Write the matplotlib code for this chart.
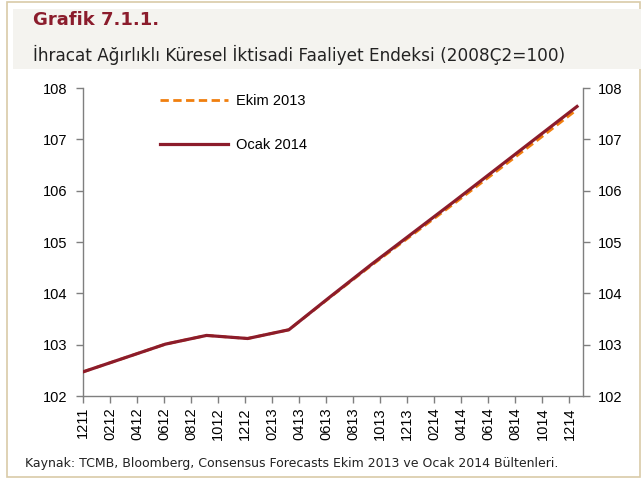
import matplotlib
matplotlib.use("Agg")
import matplotlib.pyplot as plt
from matplotlib.patches import Rectangle
import numpy as np

# Quarterly data (2011Q4 .. 2014Q4)
quarters = ["2011Q4", "2012Q1", "2012Q2", "2012Q3", "2012Q4", "2013Q1", "2013Q2",
            "2013Q3", "2013Q4", "2014Q1", "2014Q2", "2014Q3", "2014Q4"]
ekim_2013 = [102.47, 102.74, 103.01, 103.18, 103.12, 103.29, 103.92,
             104.54, 105.14, 105.74, 106.35, 106.96, 107.58]
ocak_2014 = [102.47, 102.74, 103.01, 103.18, 103.12, 103.29, 103.93,
             104.56, 105.17, 105.78, 106.40, 107.02, 107.64]

month_labels = ["1211", "0212", "0412", "0612", "0812", "1012", "1212", "0213", "0413",
                "0613", "0813", "1013", "1213", "0214", "0414", "0614", "0814", "1014", "1214"]

W, H = 643, 479
fig = plt.figure(figsize=(W / 100, H / 100), dpi=100)
fig.patch.set_facecolor("white")

# frame and title band
fig.patches.append(Rectangle((7 / W, 2 / H), 633 / W, 475 / H, transform=fig.transFigure,
                             fill=False, edgecolor="#d9cba8", linewidth=1.2))
fig.patches.append(Rectangle((13 / W, 1 - 69 / H), 628 / W, 60 / H, transform=fig.transFigure,
                             facecolor="#f4f3ef", edgecolor="none"))

fig.text(33 / W, 1 - 20 / H, "Grafik 7.1.1.", fontsize=13, fontweight="bold",
         color="#8b1c2c", va="center", ha="left", family="DejaVu Sans")
fig.text(33 / W, 1 - 55 / H, "İhracat Ağırlıklı Küresel İktisadi Faaliyet Endeksi (2008Ç2=100)",
         fontsize=12.2, color="#222222", va="center", ha="left", family="DejaVu Sans")
fig.text(25 / W, 1 - 463 / H,
         "Kaynak: TCMB, Bloomberg, Consensus Forecasts Ekim 2013 ve Ocak 2014 Bültenleri.",
         fontsize=9.0, color="#222222", va="center", ha="left", family="DejaVu Sans")

left, right, top, bottom = 83, 583, 88, 396
ax = fig.add_axes([left / W, 1 - bottom / H, (right - left) / W, (bottom - top) / H])
ax.set_facecolor("none")

x = np.arange(len(quarters))
ax.plot(x, ekim_2013, color="#f07f0e", linewidth=2.0, linestyle=(0, (3, 1.6)),
        label="Ekim 2013", zorder=2)
ax.plot(x, ocak_2014, color="#8c1c2b", linewidth=2.3, label="Ocak 2014", zorder=3)

px_per_q = (577 - left) / (len(quarters) - 1)
ax.set_xlim(0, (right - left) / px_per_q)
ax.set_ylim(102, 108)
ax.set_yticks(np.arange(102, 109, 1))
ax.set_xticks([])

ax.spines["top"].set_visible(False)
for s in ["left", "right", "bottom"]:
    ax.spines[s].set_color("#7f7f7f")
    ax.spines[s].set_linewidth(1.0)
ax.tick_params(axis="y", which="both", left=True, right=True, labelleft=True, labelright=True,
               direction="out", length=5, width=1, color="#7f7f7f", labelsize=10.5, pad=6)
for lab in ax.get_yticklabels():
    lab.set_family("Liberation Sans")

# month axis for tick labels
axm = ax.twiny()
axm.set_xlim(0, 37)
axm.xaxis.set_ticks_position("bottom")
axm.xaxis.set_label_position("bottom")
axm.set_xticks(np.arange(0, 37, 2))
axm.set_xticklabels(month_labels, rotation=90, fontsize=10.5, family="Liberation Sans")
axm.tick_params(axis="x", direction="out", length=5, width=1, color="#7f7f7f", pad=3)
for s in axm.spines.values():
    s.set_visible(False)

leg = ax.legend(loc="upper left", bbox_to_anchor=(0.128, 1.024), frameon=False,
                handlelength=4.65, labelspacing=2.05, handletextpad=0.55,
                prop={"family": "Liberation Sans", "size": 10.5})

fig.savefig("out.png", dpi=100)
